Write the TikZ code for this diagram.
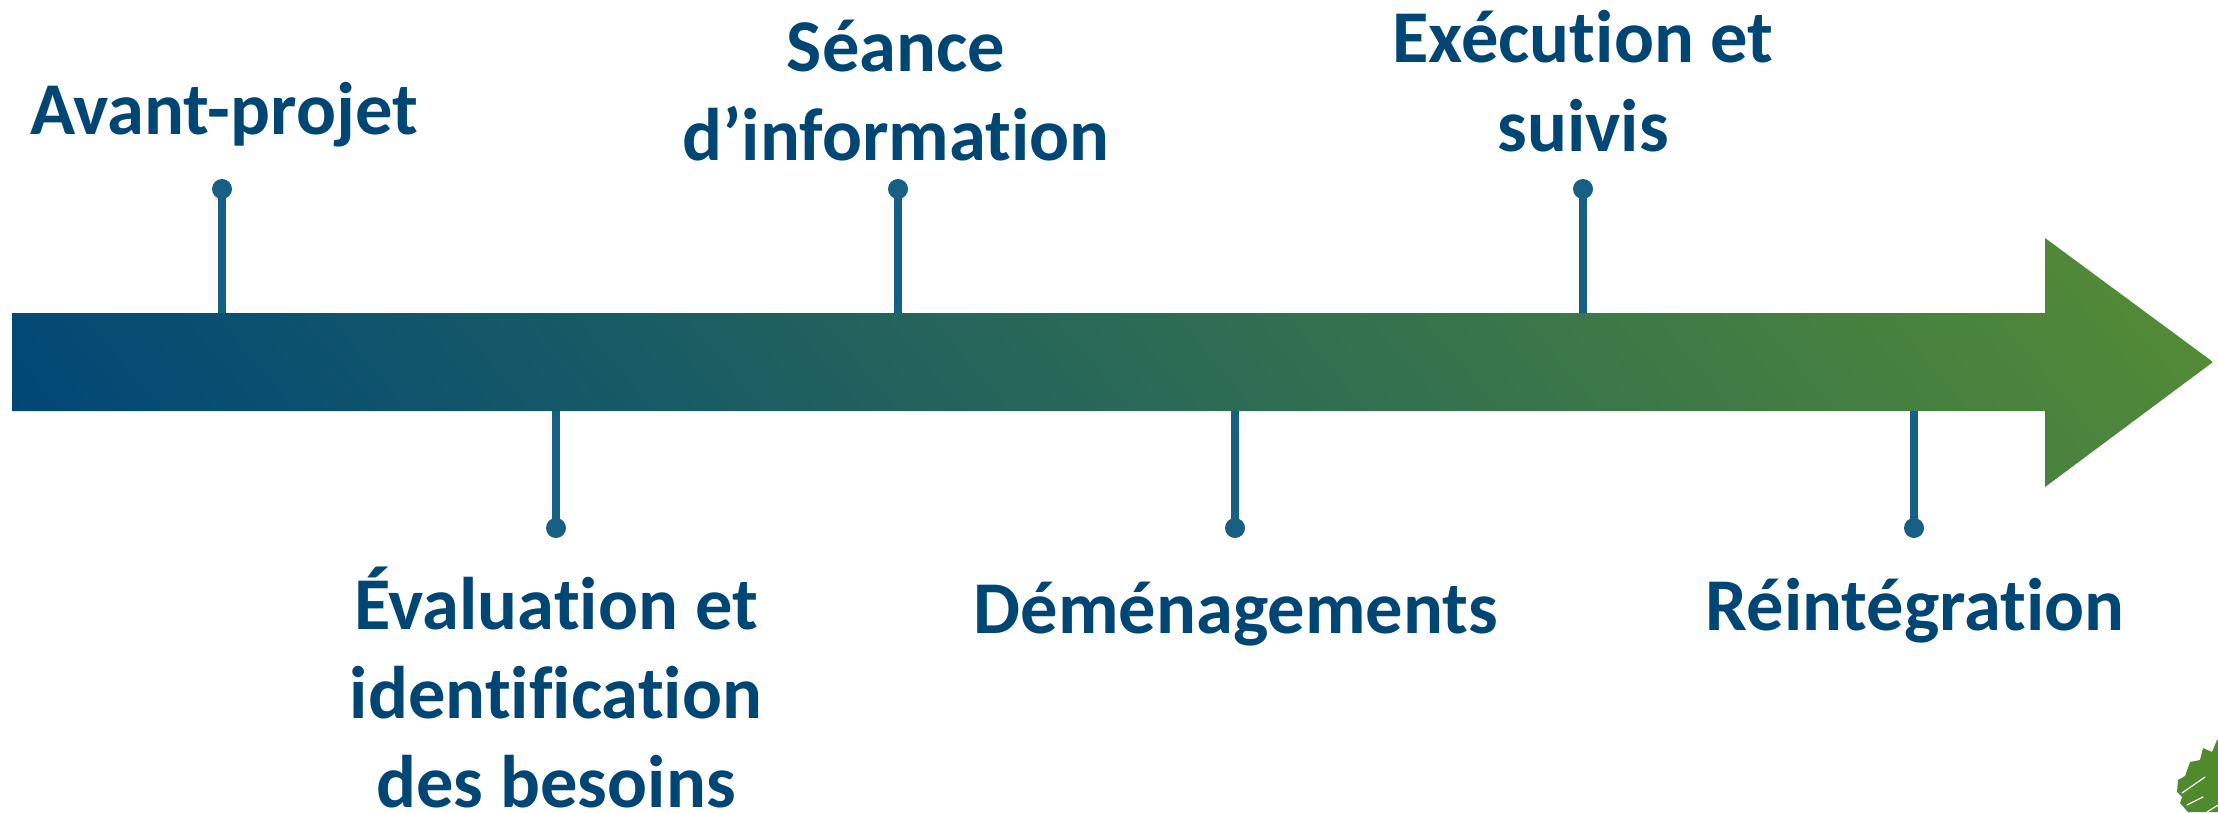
\documentclass[tikz,border=0pt]{standalone}
\usepackage{fontspec}
\setmainfont{Carlito}[Ligatures=CommonOff]
\definecolor{labelblue}{HTML}{004675}
\definecolor{stemblue}{HTML}{175F85}
\definecolor{gradblue}{HTML}{004778}
\definecolor{gradgreen}{HTML}{528A36}
\definecolor{leafgreen}{HTML}{4F8A2C}
\pgfdeclarehorizontalshading{arrowgrad}{1600bp}{color(0bp)=(gradblue); color(1711bp)=(gradgreen)}
\tikzset{
  x=1pt,y=-1pt,
  lbl/.style={font=\fontsize{74.5}{89}\selectfont\bfseries,text=labelblue,align=center,inner sep=0pt},
  dotnode/.style={circle,fill=stemblue,minimum size=20pt,inner sep=0pt},
  stem/.style={draw=stemblue,line width=8pt},
}
\begin{document}
\begin{tikzpicture}
\useasboundingbox (0,0) rectangle (2218,812);
% stems
\coordinate (s1) at (222,320);
\coordinate (s2) at (898,320);
\coordinate (s3) at (1583,320);
\coordinate (s4) at (556,405);
\coordinate (s5) at (1235,405);
\coordinate (s6) at (1914,405);
\node[dotnode] (d1) at (222,189) {};
\node[dotnode] (d2) at (898,189) {};
\node[dotnode] (d3) at (1583,189) {};
\node[dotnode] (d4) at (556,528) {};
\node[dotnode] (d5) at (1235,528) {};
\node[dotnode] (d6) at (1914,528) {};
\foreach \i in {1,...,6} \draw[stem] (d\i.center) -- (s\i);
% arrow
\begin{scope}
\clip (12,313) -- (2045,313) -- (2045,238) -- (2213,362) -- (2045,487) -- (2045,411) -- (12,411) -- cycle;
\node[rotate=40,transform shape,inner sep=0pt] at (1100,372) {\pgfuseshading{arrowgrad}};
\end{scope}
% labels
\node[lbl,anchor=base] (a) at (224,134) {Avant-projet};
\node[lbl,anchor=base] (b) at (896,160) {Séance\\d’information};
\node[lbl,anchor=base] (c) at (1583,151) {Exécution et\\suivis};
\node[lbl,anchor=base] (e) at (556,807) {Évaluation et\\identification\\des besoins};
\node[lbl,anchor=base] (f) at (1236,633) {Déménagements};
\node[lbl,anchor=base] (g) at (1915,630) {Réintégration};
% leaf
\fill[leafgreen] (2188,812) -- (2180,803) -- (2182,797) -- (2177,792) -- (2178,780) -- (2185,776) -- (2190,762) -- (2200,760) -- (2203,748) -- (2212,752) -- (2217,740) -- (2218,740) -- (2218,812) -- cycle;
\draw[white,line width=1.2pt,line cap=round] (2182,793) -- (2205,777);
\draw[white,line width=1.2pt,line cap=round] (2187,805) -- (2203,797);
\draw[white,line width=1.2pt,line cap=round] (2207,812) -- (2218,805);
\end{tikzpicture}
\end{document}
